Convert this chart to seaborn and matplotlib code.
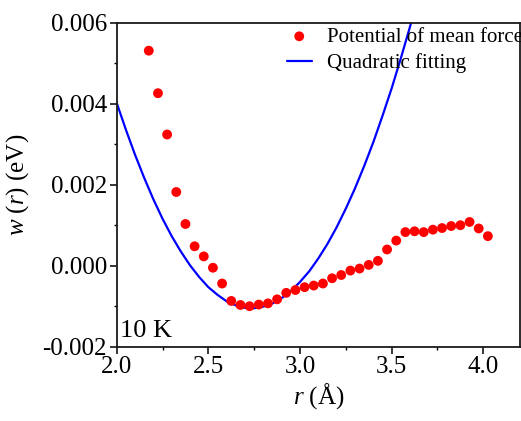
import matplotlib
matplotlib.use("Agg")
import matplotlib.pyplot as plt
import seaborn as sns
import pandas as pd
from matplotlib.ticker import MultipleLocator

# Potential of mean force
r_pmf = [2.175, 2.225, 2.275, 2.325, 2.375, 2.425, 2.475, 2.525, 2.575, 2.625,
         2.675, 2.725, 2.775, 2.825, 2.875, 2.925, 2.975, 3.025, 3.075, 3.125,
         3.175, 3.225, 3.275, 3.325, 3.375, 3.425, 3.475, 3.525, 3.575, 3.625,
         3.675, 3.725, 3.775, 3.825, 3.875, 3.925, 3.975, 4.025]
w_pmf = [0.00531, 0.00426, 0.00324, 0.00182, 0.00103, 0.00048, 0.00023, -0.00005,
         -0.00044, -0.00087, -0.00097, -0.00100, -0.00096, -0.00093, -0.00083,
         -0.00067, -0.00060, -0.00053, -0.00049, -0.00044, -0.00031, -0.00023,
         -0.00012, -0.00007, 0.00002, 0.00012, 0.00040, 0.00062, 0.00083, 0.00085,
         0.00083, 0.00089, 0.00093, 0.00098, 0.00100, 0.00108, 0.00092, 0.00073]

# Quadratic fitting curve
r_fit = [2.00, 2.05, 2.10, 2.15, 2.20, 2.25, 2.30, 2.35, 2.40, 2.45, 2.50, 2.55,
         2.60, 2.65, 2.70, 2.75, 2.80, 2.85, 2.90, 2.95, 3.00, 3.05, 3.10, 3.15,
         3.20, 3.25, 3.30, 3.35, 3.40, 3.45, 3.50, 3.55, 3.60, 3.65]
w_fit = [0.00402, 0.00336, 0.00274, 0.00217, 0.00164, 0.00116, 0.00073, 0.00035,
         0.00001, -0.00028, -0.00053, -0.00072, -0.00088, -0.00098, -0.00104,
         -0.00105, -0.00101, -0.00093, -0.00080, -0.00063, -0.00040, -0.00014,
         0.00018, 0.00054, 0.00095, 0.00141, 0.00191, 0.00246, 0.00305, 0.00370,
         0.00438, 0.00512, 0.00590, 0.00673]

x_ticks = [2.0, 2.5, 3.0, 3.5, 4.0]
y_ticks = [-0.002, 0.000, 0.002, 0.004, 0.006]
y_ticklabels = ["-0.002", "0.000", "0.002", "0.004", "0.006"]

pmf = pd.DataFrame({"r": r_pmf, "w": w_pmf})
fit = pd.DataFrame({"r": r_fit, "w": w_fit})

sns.set_style("ticks")
plt.rcParams["font.family"] = ["Liberation Serif", "DejaVu Serif"]
plt.rcParams["mathtext.fontset"] = "custom"
plt.rcParams["mathtext.rm"] = "Liberation Serif"
plt.rcParams["mathtext.it"] = "Liberation Serif:italic"
for key in ["text.color", "axes.labelcolor", "xtick.color", "ytick.color"]:
    plt.rcParams[key] = "black"

fig = plt.figure(figsize=(5.21, 4.21), dpi=100)
ax = fig.add_axes([0.224, 0.1765, 0.774, 0.7695])

sns.lineplot(data=fit, x="r", y="w", ax=ax, color="#0000ff", linewidth=1.6,
             label="Quadratic fitting", zorder=2)
sns.scatterplot(data=pmf, x="r", y="w", ax=ax, color="#ff0000", s=50,
                edgecolor="none", label="Potential of mean force", zorder=3)

ax.set_xlim(2.0, 4.2)
ax.set_ylim(-0.002, 0.006)
ax.set_xticks(x_ticks)
ax.set_yticks(y_ticks)
ax.set_yticklabels(y_ticklabels)
ax.xaxis.set_minor_locator(MultipleLocator(0.25))
ax.yaxis.set_minor_locator(MultipleLocator(0.001))
ax.tick_params(which="major", direction="out", length=5, width=1.1,
               labelsize=18, pad=2, top=False, right=False)
ax.tick_params(which="minor", direction="out", length=2.5, width=1.0,
               top=False, right=False)
for side in ["top", "right", "bottom", "left"]:
    ax.spines[side].set_visible(True)
    ax.spines[side].set_linewidth(1.3)
    ax.spines[side].set_color("#1a1a1a")

ax.set_xlabel(r"$\mathit{r}$ (Å)", fontsize=18, labelpad=2)
ax.set_ylabel(r"$\mathit{w}$ ($\mathit{r}$) (eV)", fontsize=18, labelpad=8)

ax.text(0.008, 0.015, "10 K", transform=ax.transAxes, fontsize=19,
        ha="left", va="bottom")

handles, labels = ax.get_legend_handles_labels()
order = [labels.index("Potential of mean force"), labels.index("Quadratic fitting")]
ax.legend([handles[i] for i in order], [labels[i] for i in order],
          loc="upper left", bbox_to_anchor=(0.401, 1.012), frameon=False,
          fontsize=15, handlelength=1.2, handletextpad=0.75, labelspacing=0.3,
          borderaxespad=0, markerscale=1.0)

fig.savefig("out.png", dpi=100)
